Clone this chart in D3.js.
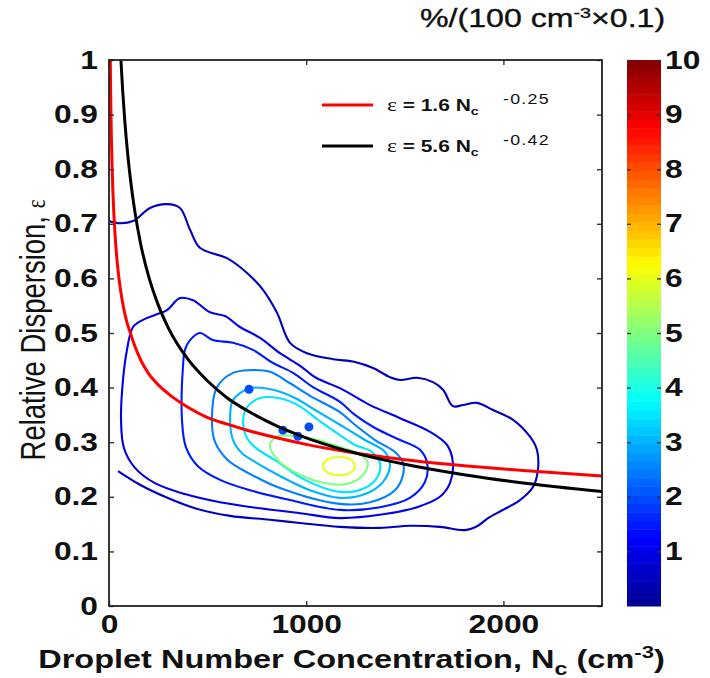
<!DOCTYPE html>
<html><head><meta charset="utf-8">
<script src="https://cdn.jsdelivr.net/npm/d3@7"></script>
<style>body{margin:0;background:#fff}svg{display:block}</style>
</head><body>
<svg id="c" width="710" height="678"></svg>
<script>
// ---------------- data ----------------
const xTicks = [0, 1000, 2000];
const xTickLabels = ["0", "1000", "2000"];
const yTicks = [0, 0.1, 0.2, 0.3, 0.4, 0.5, 0.6, 0.7, 0.8, 0.9, 1];
const yTickLabels = ["0", "0.1", "0.2", "0.3", "0.4", "0.5", "0.6", "0.7", "0.8", "0.9", "1"];
const cbTicks = [1, 2, 3, 4, 5, 6, 7, 8, 9, 10];
const cbTickLabels = ["1", "2", "3", "4", "5", "6", "7", "8", "9", "10"];

// fitted curves (N, epsilon)
const redFit = [[6.5,1.002],[8,0.951],[10,0.900],[12,0.860],[15,0.813],[20,0.757],[25,0.716],[30,0.684],[40,0.636],[50,0.602],[60,0.575],[75,0.544],[90,0.521],[110,0.498],[130,0.477],[160,0.451],[200,0.426],[250,0.405],[300,0.389],[400,0.364],[500,0.345],[600,0.333],[700,0.322],[850,0.308],[1000,0.296],[1200,0.283],[1500,0.268],[1800,0.257],[2100,0.248],[2500,0.238]];
const blackFit = [[60.5,1.0],[70,0.940],[80,0.889],[95,0.827],[110,0.778],[130,0.725],[160,0.664],[200,0.605],[250,0.551],[300,0.510],[400,0.452],[500,0.412],[600,0.381],[700,0.358],[850,0.330],[1000,0.308],[1200,0.285],[1500,0.2595],[1800,0.2404],[2100,0.2253],[2500,0.2097]];
const legendLabels = [{coef:"1.6", exp:"-0.25"}, {coef:"5.6", exp:"-0.42"}];

// contour levels (%/(100 cm^-3 x 0.1)) and contour rings (N, epsilon)
const contourLevels = [0.5, 1, 1.5, 2.5, 3, 3.5, 5, 6];
const contourL05 = [[46,0.247],[157,0.222],[284,0.200],[436,0.179],[614,0.165],[816,0.158],[969,0.152],[1171,0.145],[1374,0.143],[1526,0.147],[1678,0.145],[1805,0.139],[1871,0.147],[1922,0.161],[1998,0.176],[2084,0.194],[2150,0.218],[2175,0.249],[2170,0.286],[2135,0.310],[2049,0.341],[1947,0.359],[1866,0.372],[1795,0.368],[1744,0.366],[1694,0.396],[1643,0.410],[1562,0.418],[1476,0.414],[1425,0.419],[1339,0.436],[1247,0.447],[1136,0.452],[1004,0.463],[918,0.482],[852,0.537],[781,0.579],[700,0.610],[598,0.637],[461,0.656],[411,0.689],[360,0.729],[294,0.736],[208,0.729],[122,0.705],[56,0.701],[0,0.705]];
const contourL1 = [[71,0.414],[61,0.341],[76,0.289],[132,0.253],[233,0.225],[385,0.205],[563,0.190],[766,0.179],[969,0.170],[1171,0.161],[1389,0.168],[1562,0.181],[1678,0.200],[1729,0.225],[1744,0.262],[1714,0.295],[1628,0.319],[1476,0.344],[1324,0.368],[1171,0.399],[1050,0.418],[969,0.440],[867,0.463],[766,0.491],[664,0.511],[588,0.531],[512,0.538],[426,0.560],[360,0.564],[294,0.542],[233,0.533],[172,0.524],[122,0.511],[91,0.469]];
const contourL15 = [[375,0.438],[370,0.341],[390,0.291],[451,0.256],[563,0.231],[715,0.212],[918,0.194],[1171,0.176],[1374,0.181],[1526,0.198],[1602,0.227],[1613,0.262],[1577,0.286],[1476,0.304],[1349,0.326],[1247,0.350],[1171,0.374],[1034,0.401],[933,0.427],[832,0.445],[730,0.469],[629,0.482],[527,0.487],[461,0.500],[411,0.487],[385,0.469]];
const contourL25 = [[548,0.401],[522,0.341],[538,0.300],[603,0.267],[715,0.242],[867,0.216],[1171,0.187],[1324,0.190],[1450,0.212],[1491,0.240],[1491,0.262],[1450,0.282],[1349,0.304],[1247,0.332],[1171,0.355],[1019,0.385],[918,0.408],[816,0.429],[715,0.432],[629,0.427]];
const contourL3 = [[629,0.377],[614,0.341],[629,0.304],[674,0.280],[740,0.264],[867,0.238],[1019,0.212],[1171,0.198],[1298,0.205],[1389,0.227],[1425,0.258],[1400,0.282],[1298,0.304],[1171,0.332],[1045,0.359],[943,0.381],[832,0.396],[715,0.399]];
const contourL35 = [[700,0.364],[680,0.341],[695,0.311],[740,0.291],[842,0.267],[994,0.231],[1171,0.209],[1298,0.216],[1364,0.238],[1374,0.262],[1334,0.282],[1247,0.295],[1171,0.313],[1060,0.341],[958,0.368],[857,0.381],[766,0.381]];
const contourL5 = [[816,0.295],[857,0.311],[943,0.311],[1060,0.304],[1171,0.291],[1263,0.280],[1313,0.262],[1283,0.238],[1197,0.223],[1070,0.227],[943,0.245],[857,0.267]];
const contourL6 = [[1085,0.256],[1111,0.269],[1166,0.273],[1222,0.269],[1247,0.256],[1222,0.244],[1166,0.240],[1111,0.244]];
const contourRings = [contourL05, contourL1, contourL15, contourL25, contourL3, contourL35, contourL5, contourL6];
const ringClosed = [false, true, true, true, true, true, true, true];
// small local maxima (N, epsilon, level)
const localPeaks = [[710,0.397,2],[882,0.322,2],[958,0.311,2],[1014,0.328,2]];

// ---------------- drawing ----------------
const SX = 1.27; // horizontal stretch of the lettering in the original figure
const FONT = "'Liberation Sans', Arial, Helvetica, sans-serif";
const SERIF = "'Liberation Serif', 'DejaVu Serif', serif";
const svg = d3.select("#c");
const x = d3.scaleLinear().domain([0, 2500]).range([109, 602]);
const y = d3.scaleLinear().domain([0, 1]).range([606, 60]);
const cb = d3.scaleLinear().domain([0, 10]).range([606, 60]);
const jet = d3.scaleLinear().domain([0, 1.25, 3.75, 6.25, 8.75, 10])
  .range(["#000090", "#0000ff", "#00ffff", "#ffff00", "#ff0000", "#800000"]).clamp(true);

svg.append("defs").append("clipPath").attr("id", "plotclip")
  .append("rect").attr("x", x(0)).attr("y", y(1)).attr("width", x(2500) - x(0)).attr("height", y(0) - y(1));

const plot = svg.append("g").attr("clip-path", "url(#plotclip)");

// contours
contourRings.forEach((ring, i) => {
  const gen = d3.line().x(d => x(d[0])).y(d => y(d[1]))
    .curve(ringClosed[i] ? d3.curveCatmullRomClosed.alpha(0.5) : d3.curveCatmullRom.alpha(0.5));
  plot.append("path").attr("d", gen(ring)).attr("fill", "none")
    .attr("stroke", jet(contourLevels[i])).attr("stroke-width", 2.1).attr("stroke-linejoin", "round");
});
plot.selectAll("circle.peak").data(localPeaks).join("circle").attr("class", "peak")
  .attr("cx", d => x(d[0])).attr("cy", d => y(d[1])).attr("r", 4.5).attr("fill", d => jet(d[2]));

// fit curves
const fitLine = d3.line().x(d => x(d[0])).y(d => y(d[1])).curve(d3.curveMonotoneX);
plot.append("path").attr("d", fitLine(redFit)).attr("fill", "none").attr("stroke", "#ff0000").attr("stroke-width", 3);
plot.append("path").attr("d", fitLine(blackFit)).attr("fill", "none").attr("stroke", "#000").attr("stroke-width", 3);

// axes (ticks inside)
function styleAxis(g) {
  g.select(".domain").remove();
  g.selectAll(".tick line").attr("stroke", "#333").attr("stroke-width", 1.4);
  g.selectAll("text").attr("font-family", FONT).attr("font-weight", "bold").attr("font-size", 25)
    .attr("fill", "#111").attr("transform", `scale(${SX},1)`);
}
svg.append("g").attr("transform", `translate(0,${y(0)})`)
  .call(d3.axisBottom(x).tickValues(xTicks).tickFormat((d, i) => xTickLabels[i]).tickSizeInner(-5).tickSizeOuter(0).tickPadding(9))
  .call(styleAxis);
svg.append("g").attr("transform", `translate(0,${y(1)})`)
  .call(d3.axisTop(x).tickValues(xTicks).tickFormat("").tickSizeInner(-5).tickSizeOuter(0)).call(styleAxis);
svg.append("g").attr("transform", `translate(${x(0)},0)`)
  .call(d3.axisLeft(y).tickValues(yTicks).tickFormat((d, i) => yTickLabels[i]).tickSizeInner(-5).tickSizeOuter(0).tickPadding(11 / SX))
  .call(styleAxis);
svg.append("g").attr("transform", `translate(${x(2500)},0)`)
  .call(d3.axisRight(y).tickValues(yTicks).tickFormat("").tickSizeInner(-5).tickSizeOuter(0)).call(styleAxis);

// plot frame
svg.append("rect").attr("x", x(0)).attr("y", y(1)).attr("width", x(2500) - x(0)).attr("height", y(0) - y(1))
  .attr("fill", "none").attr("stroke", "#222").attr("stroke-width", 1.8);

// colour bar
const nBins = 64;
const bins = d3.range(nBins).map(i => [i * 10 / nBins, (i + 1) * 10 / nBins]);
svg.append("g").selectAll("rect").data(bins).join("rect")
  .attr("x", 627).attr("width", 34)
  .attr("y", d => cb(d[1])).attr("height", d => cb(d[0]) - cb(d[1]) + 0.5)
  .attr("fill", d => jet((d[0] + d[1]) / 2));
svg.append("g").attr("transform", "translate(661,0)")
  .call(d3.axisRight(cb).tickValues(cbTicks).tickFormat((d, i) => cbTickLabels[i]).tickSizeInner(-4).tickSizeOuter(0).tickPadding(4 / SX))
  .call(styleAxis);
svg.append("g").attr("transform", "translate(627,0)")
  .call(d3.axisLeft(cb).tickValues(cbTicks).tickFormat("").tickSizeInner(-4).tickSizeOuter(0)).call(styleAxis);

// stretched text helper
function stext(px, py, opts = {}) {
  const sx = opts.sx || SX;
  const g = svg.append("g").attr("transform", `translate(${px},${py}) scale(${sx},1)` + (opts.rotate ? ` rotate(${opts.rotate})` : ""));
  return g.append("text").attr("font-family", FONT).attr("font-size", opts.size || 25)
    .attr("font-weight", opts.weight || "bold").attr("fill", "#111")
    .attr("text-anchor", opts.anchor || "start");
}

// colour bar title
{
  const t = stext(420, 27, {size: 25.3, weight: "normal"});
  t.attr("stroke", "#111").attr("stroke-width", 0.35);
  t.append("tspan").text("%/(100 cm");
  t.append("tspan").attr("font-size", 15.5).attr("dy", -9).text("-3");
  t.append("tspan").attr("dy", 9).text("×0.1)");
}

// x-axis title
{
  const t = stext(351.5, 668, {size: 25, anchor: "middle", sx: 1.3});
  t.append("tspan").text("Droplet Number Concentration, N");
  t.append("tspan").attr("font-size", 18).attr("dy", 7).text("c");
  t.append("tspan").attr("dy", -7).text(" (cm");
  t.append("tspan").attr("font-size", 17).attr("dy", -10).text("-3");
  t.append("tspan").attr("dy", 10).text(")");
}

// y-axis title
{
  const t = stext(33, 330, {size: 27.5, weight: "normal", anchor: "middle", rotate: -90});
  t.attr("dy", "0.35em");
  t.append("tspan").text("Relative Dispersion, ");
  t.append("tspan").attr("font-family", SERIF).attr("font-size", 21).text("ε");
}

// legend
const legendColors = ["#ff0000", "#000000"];
const legendY = [105, 146];
legendLabels.forEach((lab, i) => {
  svg.append("line").attr("x1", 322).attr("x2", 373).attr("y1", legendY[i]).attr("y2", legendY[i])
    .attr("stroke", legendColors[i]).attr("stroke-width", 3);
  const t = stext(387, legendY[i] + 6, {size: 16.5});
  t.append("tspan").attr("font-family", SERIF).attr("font-weight", "normal").attr("font-size", 18.5).text("ε");
  t.append("tspan").text(` = ${lab.coef} N`);
  t.append("tspan").attr("font-size", 11).attr("dy", 4).text("c");
  const s = stext(503, legendY[i] - 1, {size: 14, weight: "normal"});
  s.attr("letter-spacing", 1).text(lab.exp);
});
</script>
</body></html>
